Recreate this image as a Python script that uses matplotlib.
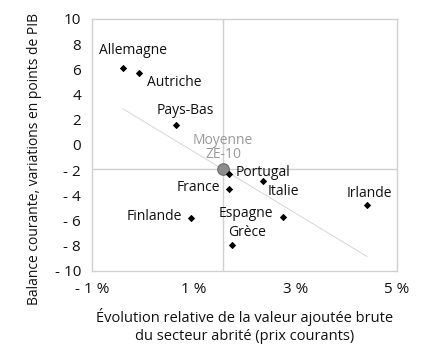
import numpy as np
import matplotlib
matplotlib.use("Agg")
import matplotlib.pyplot as plt

plt.rcParams['font.family'] = ['Open Sans', 'DejaVu Sans']

# data
pays = ['Allemagne', 'Autriche', 'Pays-Bas', 'Portugal', 'France',
        'Italie', 'Irlande', 'Espagne', 'Grèce', 'Finlande']
evol_vab = [-0.39, -0.08, 0.65, 1.69, 1.69, 2.37, 4.41, 2.75, 1.75, 0.94]
balance = [6.14, 5.69, 1.61, -2.30, -3.52, -2.86, -4.79, -5.69, -7.91, -5.77]
moyenne_x = 1.58
moyenne_y = -1.94

x_ticks = [-1, 1, 3, 5]
y_ticks = list(range(-10, 11, 2))

# label placement: offset in points, alignment
label_pos = {
    'Allemagne': ((7, 7), 'center', 'bottom'),
    'Autriche': ((6, -1), 'left', 'top'),
    'Pays-Bas': ((7, 5), 'center', 'bottom'),
    'Portugal': ((5, 1), 'left', 'center'),
    'France': ((-6, 1), 'right', 'center'),
    'Italie': ((3, -2), 'left', 'top'),
    'Irlande': ((2, 3), 'center', 'bottom'),
    'Espagne': ((-7, 2), 'right', 'center'),
    'Grèce': ((-3, 3), 'left', 'bottom'),
    'Finlande': ((-6, 1), 'right', 'center'),
}

grey = '#d0d0d0'

fig = plt.figure(figsize=(4.26, 3.51), dpi=100)
ax = fig.add_axes([0.216, 0.228, 0.716, 0.718])

ax.axhline(moyenne_y, color=grey, lw=1, zorder=1)
ax.axvline(moyenne_x, color=grey, lw=1, zorder=1)

# droite de tendance (moindres carrés)
a, b = np.polyfit(evol_vab, balance, 1)
xs = np.array([min(evol_vab), max(evol_vab)])
ax.plot(xs, a * xs + b, color='#d6d6d6', lw=0.7, zorder=2)

ax.scatter(evol_vab, balance, marker='D', s=14, color='black', zorder=4,
           linewidths=0)
ax.scatter([moyenne_x], [moyenne_y], marker='o', s=70, color='#8c8c8c',
           edgecolors='#6e6e6e', linewidths=0.8, zorder=3)

for name, x, y in zip(pays, evol_vab, balance):
    off, ha, va = label_pos[name]
    ax.annotate(name, (x, y), xytext=off, textcoords='offset points',
                ha=ha, va=va, fontsize=10, color='#111111')

ax.annotate('Moyenne\nZE-10', (moyenne_x, moyenne_y), xytext=(0, 5),
            textcoords='offset points', ha='center', va='bottom',
            fontsize=10, color='#999999', linespacing=0.95)

ax.set_xlim(-1, 5)
ax.set_ylim(-10, 10)
ax.set_xticks(x_ticks)
ax.set_xticklabels([f"- {-v} %" if v < 0 else f"{v} %" for v in x_ticks])
ax.set_yticks(y_ticks)
ax.set_yticklabels([f"- {-v}" if v < 0 else f"{v}" for v in y_ticks])
ax.tick_params(length=0, labelsize=11, pad=8, labelcolor='#111111')
for s in ax.spines.values():
    s.set_color(grey)
    s.set_linewidth(1)

ax.set_ylabel('Balance courante, variations en points de PIB', fontsize=10,
              color='#111111')
ax.yaxis.set_label_coords(-0.165, 0.445)
ax.set_xlabel('Évolution relative de la valeur ajoutée brute\n'
              'du secteur abrité (prix courants)', fontsize=10.5, labelpad=8,
              linespacing=1.3, color='#111111')

fig.savefig('out.png', dpi=100)
